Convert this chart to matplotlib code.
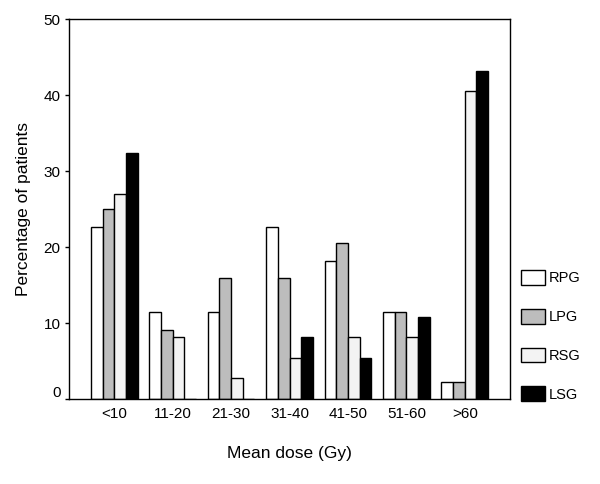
import matplotlib
matplotlib.use("Agg")
import matplotlib.pyplot as plt
import matplotlib.transforms as mtransforms
import numpy as np

plt.rcParams["font.family"] = ["Liberation Sans", "DejaVu Sans"]

# dados
categorias = ["<10", "11-20", "21-30", "31-40", "41-50", "51-60", ">60"]
rpg = [22.7, 11.4, 11.4, 22.7, 18.2, 11.4, 2.3]
lpg = [25.0, 9.1, 15.9, 15.9, 20.5, 11.4, 2.3]
rsg = [27.0, 8.1, 2.7, 5.4, 8.1, 8.1, 40.5]
lsg = [32.4, 0.0, 0.0, 8.1, 5.4, 10.8, 43.2]
series = ["RPG", "LPG", "RSG", "LSG"]
cores = ["#ffffff", "#bdbdbd", "#f3f3f3", "#000000"]

fig = plt.figure(figsize=(6, 4.84), dpi=100)
ax = fig.add_axes([0.115, 0.1756, 0.735, 0.785])

x = np.arange(len(categorias))
w = 0.2
for i, (vals, nome, cor) in enumerate(zip([rpg, lpg, rsg, lsg], series, cores)):
    ax.bar(x + (i - 1.5) * w, vals, width=w, color=cor, edgecolor="black",
           linewidth=1.0, label=nome)

ax.set_xlim(-0.774, 6.774)
ax.set_ylim(0, 50)
ax.set_yticks([0, 10, 20, 30, 40, 50])
ax.set_xticks(x)
ax.set_xticklabels(categorias)
ax.tick_params(axis="x", length=0, pad=6, labelsize=11)
ax.tick_params(axis="y", length=3, width=1, pad=3, labelsize=11)
for s in ax.spines.values():
    s.set_linewidth(1.0)

# rotulo do 0 um pouco acima do eixo
lbl0 = ax.get_yticklabels()[0]
lbl0.set_transform(lbl0.get_transform() + mtransforms.ScaledTranslation(0, 8 / 100, fig.dpi_scale_trans))

ax.set_xlabel("Mean dose (Gy)", fontsize=12.5, labelpad=18)
ax.set_ylabel("Percentage of patients", fontsize=12.5, labelpad=9)

fig.legend(loc="upper left", bbox_to_anchor=(0.8678, 0.442), frameon=False,
           fontsize=10.5, handlelength=1.65, handleheight=1.2, labelspacing=1.6,
           handletextpad=0.25, borderpad=0, borderaxespad=0)

fig.savefig("out.png", dpi=100)
